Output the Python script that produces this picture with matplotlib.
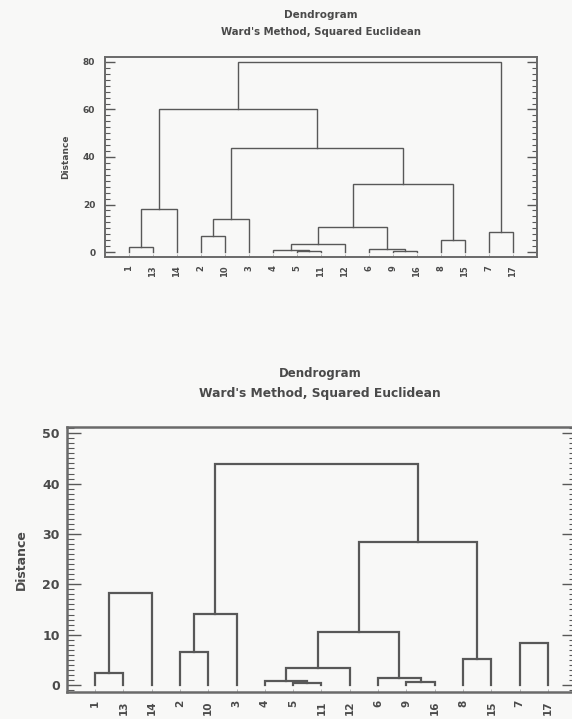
import matplotlib
matplotlib.use("Agg")
import matplotlib.pyplot as plt
from matplotlib.ticker import MultipleLocator, FixedLocator

# ---------------- data ----------------
leaf_labels = ["1", "13", "14", "2", "10", "3", "4", "5", "11", "12",
               "6", "9", "16", "8", "15", "7", "17"]
# linkage: indices 0..16 are leaves (in display order), 17+ are merged clusters
merge_left = [0, 7, 11, 6, 10, 20, 13, 3, 15, 22, 24, 17, 26, 27, 28, 31]
merge_right = [1, 8, 12, 18, 19, 9, 14, 4, 16, 21, 5, 2, 23, 29, 30, 25]
merge_height = [2.3, 0.3, 0.6, 0.7, 1.4, 3.4, 5.1, 6.6, 8.3, 10.5, 14.1,
                18.2, 28.5, 43.8, 60.2, 80.0]

title = "Dendrogram"
subtitle = "Ward's Method, Squared Euclidean"
ylabel = "Distance"

W, H = 572, 719
LINE = "#585858"
TXT = "#4a4a4a"
BG = "#f8f8f7"

fig = plt.figure(figsize=(W / 100, H / 100), dpi=100, facecolor=BG)


def draw_dendro(ax, ymax, lw):
    n = len(leaf_labels)
    xpos = {i: float(i + 1) for i in range(n)}
    ypos = {i: 0.0 for i in range(n)}
    for k, (a, b, h) in enumerate(zip(merge_left, merge_right, merge_height)):
        idx = n + k
        xpos[idx] = (xpos[a] + xpos[b]) / 2
        ypos[idx] = h
        if h > ymax:
            continue
        ax.plot([xpos[a], xpos[a], xpos[b], xpos[b]],
                [ypos[a], h, h, ypos[b]], color=LINE, lw=lw,
                solid_joinstyle="miter", clip_on=True)


def style(ax, ylim, major, minor, lbl_fs, tick_fs, ylab_fs, maj_len, min_len,
          lw, tpad, lpad):
    ax.set_facecolor(BG)
    ax.set_xlim(0, len(leaf_labels) + 1)
    ax.set_ylim(*ylim)
    ax.yaxis.set_major_locator(MultipleLocator(major))
    ax.yaxis.set_minor_locator(MultipleLocator(minor))
    ax.xaxis.set_major_locator(FixedLocator(range(1, len(leaf_labels) + 1)))
    ax.set_xticklabels(leaf_labels, rotation=90, fontsize=lbl_fs,
                       color=TXT, fontweight="bold")
    ax.tick_params(axis="y", which="major", direction="in", length=maj_len,
                   width=1.0, color=LINE, left=True, right=True,
                   labelsize=tick_fs, labelcolor=TXT, pad=tpad)
    ax.tick_params(axis="y", which="minor", direction="in", length=min_len,
                   width=0.8, color=LINE, left=True, right=True)
    ax.tick_params(axis="x", which="major", direction="in", length=2,
                   width=0.6, color="#aaaaaa", pad=6)
    for lab in ax.get_yticklabels():
        lab.set_fontweight("bold")
    for s in ax.spines.values():
        s.set_color("#6a6a6a")
        s.set_linewidth(lw)
    ax.set_ylabel(ylabel, fontsize=ylab_fs, color=TXT, fontweight="bold",
                  labelpad=lpad)


# ---------------- top chart ----------------
ax1 = fig.add_axes([105 / W, 1 - 257 / H, (537 - 105) / W, (257 - 57) / H])
draw_dendro(ax1, 1000, 1.0)
style(ax1, (-2.1, 82.1), 20, 2.5, 6, 6.5, 6.5, 7, 3.5, 1.4, 7, 9)
fig.text(321 / W, 1 - 15 / H, title, ha="center", va="center",
         fontsize=7.5, color=TXT, fontweight="bold")
fig.text(321 / W, 1 - 32 / H, subtitle, ha="center", va="center",
         fontsize=7.3, color=TXT, fontweight="bold")

# ---------------- bottom chart ----------------
ax2 = fig.add_axes([66.7 / W, 1 - 691.7 / H, (576.3 - 66.7) / W,
                    (691.7 - 426.7) / H])
draw_dendro(ax2, 51, 1.6)
style(ax2, (-1.33, 51.3), 10, 1, 7.5, 9, 9, 10, 5, 1.8, 5, 10)
fig.text(320 / W, 1 - 373 / H, title, ha="center", va="center",
         fontsize=8.5, color=TXT, fontweight="bold")
fig.text(320 / W, 1 - 394 / H, subtitle, ha="center", va="center",
         fontsize=8.8, color=TXT, fontweight="bold")

fig.savefig("out.png", dpi=100, facecolor=BG)
